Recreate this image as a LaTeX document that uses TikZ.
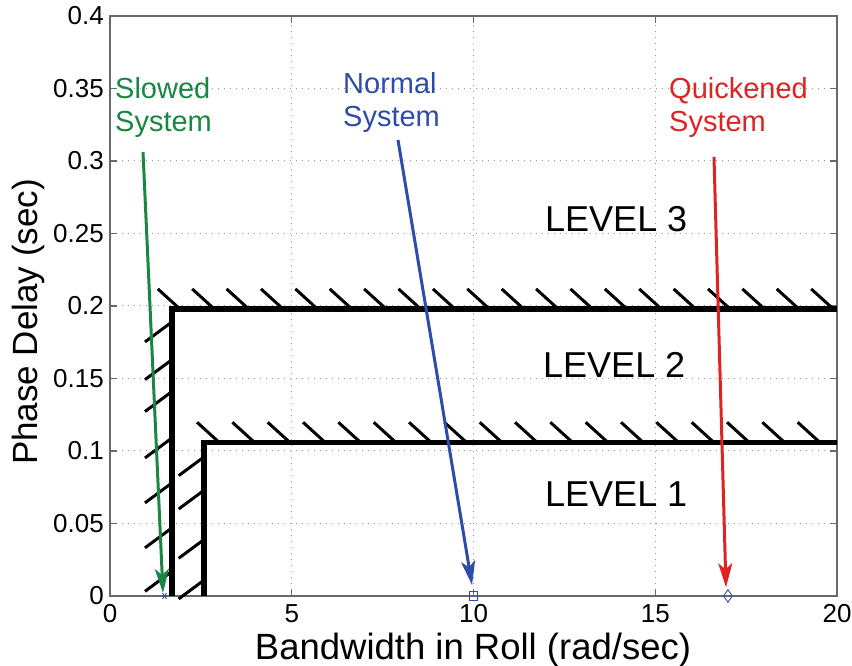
\documentclass[tikz,border=0pt]{standalone}
\usepackage{fontspec}
\setmainfont{Liberation Sans}
\usetikzlibrary{arrows.meta,shapes.geometric}
\definecolor{sgreen}{RGB}{25,135,65}
\definecolor{sblue}{RGB}{45,75,170}
\definecolor{sred}{RGB}{222,35,35}
\definecolor{axgray}{RGB}{105,105,105}
\definecolor{gridgray}{RGB}{150,150,150}
\begin{document}
\begin{tikzpicture}[x=1pt,y=1pt,
  ticklbl/.style={font=\fontsize{26}{30}\selectfont, inner sep=0pt},
  axlbl/.style={font=\fontsize{36.5}{40}\selectfont, inner sep=0pt},
  lvl/.style={font=\fontsize{36}{40}\selectfont, inner sep=0pt, anchor=base west},
  annot/.style={font=\fontsize{29}{33}\selectfont, inner sep=0pt, align=left, anchor=north west},
  gridline/.style={gridgray, line width=1pt, dash pattern=on 1pt off 5pt},
  axisline/.style={axgray, line width=1.5pt},
  tickline/.style={axgray, line width=1.3pt},
  bound/.style={black, line width=5.5pt, line join=miter},
  hatch/.style={black, line width=3pt},
  pointer/.style={line width=3pt, -{Stealth[length=24pt,width=14pt,inset=6pt]}},
  datamark/.style={sblue, draw, line width=0.9pt, inner sep=0pt}]
\useasboundingbox (0,0) rectangle (852,666);
\begin{scope}[shift={(110pt,70pt)}, x=36.35pt, y=1450pt]
  % grid
  \foreach \u in {5,10,15} \draw[gridline] (\u,0) -- (\u,0.4);
  \foreach \v in {0.05,0.1,0.15,0.2,0.25,0.3,0.35} \draw[gridline] (0,\v) -- (20,\v);
  % ticks
  \foreach \v in {0.05,0.1,0.15,0.2,0.25,0.3,0.35} {
    \draw[tickline] (0,\v) -- ++(7pt,0);
    \draw[tickline] (20,\v) -- ++(-7pt,0);
  }
  \foreach \u in {5,10,15} {
    \draw[tickline] (\u,0) -- ++(0,7pt);
    \draw[tickline] (\u,0.4) -- ++(0,-7pt);
  }
  % axis box
  \draw[axisline] (0,0) rectangle (20,0.4);
  % tick labels
  \foreach \v [count=\i] in {0,0.05,0.1,0.15,0.2,0.25,0.3,0.35,0.4}
    \node[ticklbl, anchor=east] (ytl\i) at ([xshift=-6pt]0,\v) {\v};
  \foreach \u [count=\i] in {0,5,10,15,20}
    \node[ticklbl, anchor=north] (xtl\i) at ([yshift=-8pt]\u,0) {\u};
  % level boundaries
  \draw[bound] (1.705,0) -- (1.705,0.198) -- (20,0.198);
  \draw[bound] (2.59,0) -- (2.59,0.106) -- (20,0.106);
  % hatching
  \foreach \i in {0,...,19}
    \draw[hatch] (1.92+\i*0.946,0.198) -- ++(-0.605,0.0138);
  \foreach \i in {0,...,17}
    \draw[hatch] (3.0+\i*0.972,0.106) -- ++(-0.605,0.0138);
  \foreach \v in {0.189,0.163,0.141,0.109,0.078,0.047,0.017}
    \draw[hatch] (1.705,\v) -- ++(-0.743,-0.0138);
  \foreach \v in {0.096,0.073,0.039,0.011}
    \draw[hatch] (2.59,\v) -- ++(-0.7,-0.0130);
  % markers
  \coordinate (mstar) at (1.5,0);
  \draw[sblue, line width=0.8pt] ([xshift=-3pt]mstar) -- ([xshift=3pt]mstar)
     ([xshift=-2pt,yshift=-3pt]mstar) -- ([xshift=2pt,yshift=3pt]mstar)
     ([xshift=-2pt,yshift=3pt]mstar) -- ([xshift=2pt,yshift=-3pt]mstar);
  \node[datamark, rectangle, minimum size=8.5pt] (msq) at (10,0) {};
  \node[datamark, diamond, minimum width=9pt, minimum height=13pt] (mdia) at (17,0) {};
  % arrows
  \coordinate (gs) at (0.908,0.3062);
  \coordinate (ge) at (1.458,0.0021);
  \coordinate (bs) at (7.923,0.3145);
  \coordinate (be) at (9.96,0.0076);
  \coordinate (rs) at (16.616,0.3028);
  \coordinate (re) at (16.946,0.0060);
  \draw[pointer, sgreen] (gs) -- (ge);
  \draw[pointer, sblue] (bs) -- (be);
  \draw[pointer, sred] (rs) -- (re);
\end{scope}
% axis labels
\node[axlbl, anchor=base] (xlab) at (473,6) {Bandwidth in Roll (rad/sec)};
\node[axlbl, anchor=base, rotate=90, font=\fontsize{35}{40}\selectfont] (ylab) at (37,344) {Phase Delay (sec)};
% level labels
\node[lvl] (l3) at (545,434) {LEVEL 3};
\node[lvl] (l2) at (543,288) {LEVEL 2};
\node[lvl] (l1) at (545,159) {LEVEL 1};
% annotations
\node[annot, text=sgreen] (slow) at (115,589) {Slowed\\System};
\node[annot, text=sblue] (norm) at (343,594) {Normal\\System};
\node[annot, text=sred] (quick) at (669,589) {Quickened\\System};
\end{tikzpicture}
\end{document}
